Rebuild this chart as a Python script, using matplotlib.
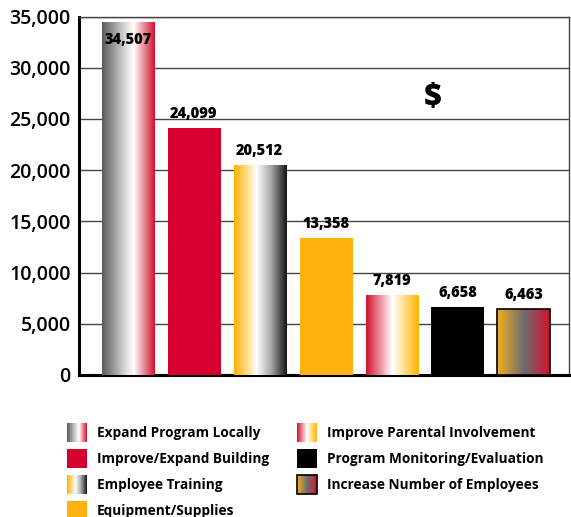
import matplotlib
matplotlib.use("Agg")
import matplotlib.pyplot as plt
import numpy as np
from matplotlib.colors import LinearSegmentedColormap
from matplotlib.patches import Rectangle

# ===== DATA =====
categories = [
    "Expand Program Locally",
    "Improve/Expand Building",
    "Employee Training",
    "Equipment/Supplies",
    "Improve Parental Involvement",
    "Program Monitoring/Evaluation",
    "Increase Number of Employees",
]
values = [34507, 24099, 20512, 13358, 7819, 6658, 6463]
yticks = [0, 5000, 10000, 15000, 20000, 25000, 30000, 35000]

# colour stops per bar (a single colour means a flat fill)
fills = [
    [(0.0, "#5a5a5a"), (0.45, "#dcdcdc"), (0.6, "#ffffff"), (1.0, "#d3102f")],
    [(0.0, "#d6002e"), (1.0, "#d6002e")],
    [(0.0, "#ffb000"), (0.3, "#ffe6a8"), (0.42, "#ffffff"), (0.7, "#a8a8a8"), (1.0, "#151515")],
    [(0.0, "#ffb20f"), (1.0, "#ffb20f")],
    [(0.0, "#d3102f"), (0.5, "#ffffff"), (1.0, "#ffb300")],
    [(0.0, "#000000"), (1.0, "#000000")],
    [(0.0, "#f2b020"), (0.5, "#6e6e6e"), (1.0, "#d21030")],
]
edges = [None, None, None, None, None, None, "black"]

plt.rcParams["font.family"] = ["Open Sans", "DejaVu Sans"]

fig = plt.figure(figsize=(5.71, 5.17), dpi=100)
ax = fig.add_axes([79 / 571, 1 - 375 / 517, 490 / 571, (375 - 16.5) / 517])

x = np.arange(len(values))
bars = ax.bar(x, values, width=0.79, color="none", zorder=3)

grad = np.linspace(0, 1, 256).reshape(1, -1)
for i, rect in enumerate(bars):
    cmap = LinearSegmentedColormap.from_list(f"c{i}", fills[i])
    x0, w, h = rect.get_x(), rect.get_width(), rect.get_height()
    im = ax.imshow(grad, cmap=cmap, aspect="auto", extent=[x0, x0 + w, 0, h],
                   zorder=3, interpolation="bilinear")
    patch = Rectangle((x0, 0), w, h, transform=ax.transData, facecolor="none",
                      edgecolor=edges[i] or "none", linewidth=1.2, zorder=4)
    ax.add_patch(patch)
    im.set_clip_path(patch)

ymax = 35000
for i, v in enumerate(values):
    label = f"{v:,}"
    # the tallest bar has no room above it, so its label goes inside
    off = -13 if v + 2200 > ymax else 10
    ax.annotate(label, (x[i], v), xytext=(0, off), textcoords="offset points",
                ha="center", va="center", fontsize=10.5, fontweight="heavy", zorder=5)

ax.set_xlim(-0.74, 6.69)
ax.set_ylim(0, ymax)
ax.set_yticks(yticks)
ax.set_yticklabels([f"{t:,}" for t in yticks], fontsize=14, fontweight="semibold")
ax.set_xticks([])
ax.tick_params(axis="y", length=0, pad=6)
ax.grid(axis="y", color="#444444", linewidth=1.0, zorder=0)
ax.set_axisbelow(True)
for side in ["left", "bottom"]:
    ax.spines[side].set_linewidth(2.2)
    ax.spines[side].set_color("black")
for side in ["top", "right"]:
    ax.spines[side].set_linewidth(1.0)
    ax.spines[side].set_color("#444444")

ax.text(4.62, 27000, "$", ha="center", va="center", fontsize=22, fontweight="heavy", zorder=5)

# ===== LEGEND (pixel coordinates) =====
lax = fig.add_axes([0, 0, 1, 1 - 400 / 517])
lax.set_xlim(0, 571)
lax.set_ylim(517, 400)
lax.axis("off")

col_x = [67, 297]
rows = [0, 1, 2, 3, 0, 1, 2]
for i, name in enumerate(categories):
    cx = col_x[0] if i < 4 else col_x[1]
    cy = 423 + 26 * rows[i]
    cmap = LinearSegmentedColormap.from_list(f"l{i}", fills[i])
    sw = Rectangle((cx, cy), 20, 19, facecolor="none",
                   edgecolor=edges[i] or "none", linewidth=1.2)
    lax.add_patch(sw)
    im = lax.imshow(grad, cmap=cmap, aspect="auto", extent=[cx, cx + 20, cy + 19, cy],
                    interpolation="bilinear")
    im.set_clip_path(sw)
    lax.text(cx + 30, cy + 10, name, ha="left", va="center", fontsize=9.8,
             fontweight="bold")

fig.savefig("out.png", dpi=100)
